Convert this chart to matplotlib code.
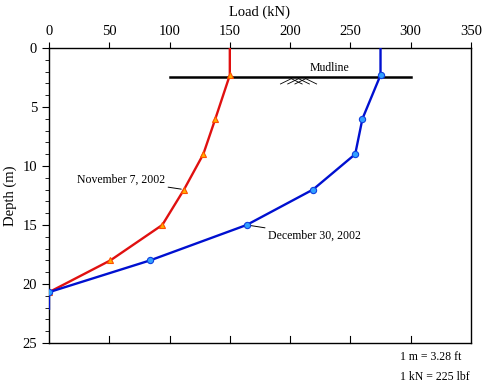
import matplotlib.pyplot as plt
from matplotlib.ticker import MultipleLocator

plt.rcParams['font.family'] = ['Liberation Serif', 'DejaVu Serif']

# November 7, 2002
nov_load = [150, 150, 138, 128, 112, 94, 51, 0]
nov_depth = [0, 2.3, 6, 9, 12, 15, 18, 20.7]
# December 30, 2002
dec_load = [275, 275, 260, 254, 219, 164, 84, 0, 0]
dec_depth = [0, 2.3, 6, 9, 12, 15, 18, 20.7, 22.1]

mud_x = [100, 300]
mud_depth = 2.5

fig = plt.figure(figsize=(4.85, 3.84), dpi=100)
ax = fig.add_axes([0.101, 0.107, 0.870, 0.768])

ax.plot(nov_load, nov_depth, color='#e01010', lw=1.7, zorder=3)
ax.plot(nov_load[1:], nov_depth[1:], ls='none', marker='^', ms=4.5,
        mfc='#ffb000', mec='#ff5000', mew=0.8, zorder=4)
ax.plot(dec_load, dec_depth, color='#0010d0', lw=1.7, zorder=3)
ax.plot(dec_load[1:8], dec_depth[1:8], ls='none', marker='o', ms=4.5,
        mfc='#30a0ff', mec='#1040e0', mew=0.8, zorder=4)

# mudline
ax.plot(mud_x, [mud_depth, mud_depth], color='black', lw=1.8, zorder=2)
for x0 in [192, 198, 204]:
    ax.plot([x0, x0 + 9], [mud_depth + 0.55, mud_depth + 0.1], color='black', lw=0.6)
for x0 in [210, 216, 222]:
    ax.plot([x0 - 9, x0], [mud_depth + 0.1, mud_depth + 0.55], color='black', lw=0.6)
ax.text(233, 1.7, 'Mudline', ha='center', va='center', fontsize=8.5)

ax.annotate('November 7, 2002', xy=(112, 12), xytext=(60, 11.2),
            ha='center', va='center', fontsize=8.5,
            arrowprops=dict(arrowstyle='-', color='black', lw=0.7,
                            shrinkA=0, shrinkB=2))
ax.annotate('December 30, 2002', xy=(164, 15), xytext=(220, 15.9),
            ha='center', va='center', fontsize=8.5,
            arrowprops=dict(arrowstyle='-', color='black', lw=0.7,
                            shrinkA=0, shrinkB=2))

ax.set_xlim(0, 350)
ax.set_ylim(25, 0)
ax.xaxis.set_major_locator(MultipleLocator(50))
ax.yaxis.set_major_locator(MultipleLocator(5))
ax.yaxis.set_minor_locator(MultipleLocator(1))
ax.xaxis.tick_top()
ax.xaxis.set_label_position('top')
ax.tick_params(axis='x', which='major', direction='out', length=4, top=True,
               bottom=False, labeltop=True, labelbottom=False, labelsize=10.5)
ax.tick_params(axis='y', which='major', direction='out', length=5, labelsize=10.5)
ax.tick_params(axis='y', which='minor', direction='out', length=3)
ax.set_xlabel('Load (kN)', fontsize=10.5, labelpad=6)
ax.set_ylabel('Depth (m)', fontsize=10.5, labelpad=4)

# inward ticks on bottom edge
for xv in range(50, 350, 50):
    ax.plot([xv, xv], [25, 24.4], color='black', lw=0.8, clip_on=False)

for s in ax.spines.values():
    s.set_linewidth(1.0)

fig.text(400 / 485, 1 - 357 / 384, '1 m = 3.28 ft', ha='left', va='center', fontsize=8.5)
fig.text(400 / 485, 1 - 377 / 384, '1 kN = 225 lbf', ha='left', va='center', fontsize=8.5)

fig.savefig('out.png', dpi=100)
